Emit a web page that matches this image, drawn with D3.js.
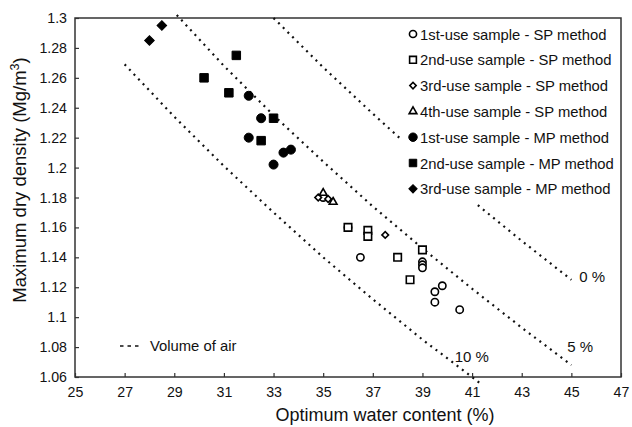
<!DOCTYPE html>
<html><head><meta charset="utf-8">
<script src="https://cdn.jsdelivr.net/npm/d3@7"></script>
<style>
body{margin:0;background:#fff;}
text{font-family:Arial,"Liberation Sans",sans-serif;fill:#111;}
</style></head>
<body><svg id="c" width="632" height="427"></svg>
<script>
// ---- data ----
const xTicks = [25,27,29,31,33,35,37,39,41,43,45,47];
const yTicks = [1.06,1.08,1.1,1.12,1.14,1.16,1.18,1.2,1.22,1.24,1.26,1.28,1.3];
const seriesNames = ["1st-use sample - SP method","2nd-use sample - SP method","3rd-use sample - SP method","4th-use sample - SP method","1st-use sample - MP method","2nd-use sample - MP method","3rd-use sample - MP method"];
const sp1 = [[36.0,1.160],[35.0,1.180],[36.5,1.140],[39.0,1.137],[39.0,1.135],[39.0,1.133],[39.8,1.121],[39.5,1.117],[39.5,1.110],[40.5,1.105]];
const sp2 = [[36.0,1.160],[36.8,1.158],[36.8,1.154],[38.0,1.140],[39.0,1.145],[38.5,1.125]];
const sp3 = [[34.8,1.180],[35.2,1.179],[37.5,1.155]];
const sp4 = [[35.0,1.183],[35.4,1.177]];
const mp1 = [[32.0,1.248],[32.5,1.233],[32.0,1.220],[33.4,1.210],[33.7,1.212],[33.0,1.202]];
const mp2 = [[30.2,1.260],[31.5,1.275],[31.2,1.250],[33.0,1.233],[32.5,1.218]];
const mp3 = [[28.0,1.285],[28.5,1.295]];
const air0  = [[33.0,1.300],[35,1.267],[37,1.236],[39,1.206],[41,1.178],[43,1.151],[45,1.125]];
const air5  = [[29.1,1.302],[31,1.268],[33,1.235],[35,1.204],[37,1.174],[39,1.146],[41,1.119],[43,1.093],[45,1.068]];
const air10 = [[27.0,1.269],[29,1.234],[31,1.201],[33,1.170],[35,1.140],[37,1.112],[39,1.085],[41,1.060],[41.3,1.056]];
const airLabels = ["0 %","5 %","10 %"];

// ---- layout ----
const svg = d3.select("#c");
const x = d3.scaleLinear().domain([25,47]).range([75,621]);
const y = d3.scaleLinear().domain([1.06,1.3]).range([377,18]);
const FONT = "Arial,'Liberation Sans',sans-serif";

// frame
svg.append("rect").attr("x",75).attr("y",18).attr("width",546).attr("height",359)
  .attr("fill","none").attr("stroke","#333").attr("stroke-width",1.5);

// axes (inward ticks)
const gx = svg.append("g").attr("transform","translate(0,377)")
  .call(d3.axisBottom(x).tickValues(xTicks).tickSizeInner(-4).tickSizeOuter(0).tickPadding(10).tickFormat(d3.format("d")));
const gy = svg.append("g").attr("transform","translate(75,0)")
  .call(d3.axisLeft(y).tickValues(yTicks).tickSizeInner(-4).tickSizeOuter(0).tickPadding(8).tickFormat(d=>String(+d.toFixed(2))));
[gx,gy].forEach(g=>{
  g.select(".domain").remove();
  g.selectAll("line").attr("stroke","#333").attr("stroke-width",1.2);
  g.selectAll("text").attr("font-size",14.2).attr("fill","#111").style("font-family",FONT);
});

// axis titles
svg.append("text").attr("x",385).attr("y",421).attr("text-anchor","middle").attr("font-size",18).text("Optimum water content  (%)");
const yt = svg.append("text").attr("transform","translate(26,180) rotate(-90)").attr("text-anchor","middle").attr("font-size",18.5);
yt.append("tspan").text("Maximum dry density  (Mg/m");
yt.append("tspan").attr("dy",-7).attr("font-size",12.5).text("3");
yt.append("tspan").attr("dy",7).text(")");

// air void lines
const line = d3.line().x(d=>x(d[0])).y(d=>y(d[1]));
[air0,air5,air10].forEach(a=>{
  svg.append("path").attr("d",line(a)).attr("fill","none").attr("stroke","#111")
    .attr("stroke-width",2.2).attr("stroke-dasharray","2,4.6");
});
// line labels
svg.append("text").attr("x",x(45)+8).attr("y",282).attr("font-size",15).text(airLabels[0]);
svg.append("text").attr("x",x(45)-4).attr("y",352).attr("font-size",15).text(airLabels[1]);
svg.append("text").attr("x",x(40.3)).attr("y",362).attr("font-size",15).text(airLabels[2]);

// markers
const sym = {
  circle:(s)=>d3.symbol(d3.symbolCircle, s)(),
  square:(s)=>d3.symbol(d3.symbolSquare, s)(),
  triangle:(s)=>d3.symbol(d3.symbolTriangle, s)()
};
const specs = [
  {data:sp1, type:"circle", size:42, fill:"#fff", rot:0, leg:40},
  {data:sp2, type:"square", size:56, fill:"#fff", rot:0, leg:46},
  {data:sp3, type:"square", size:22, fill:"#fff", rot:45, leg:20},
  {data:sp4, type:"triangle", size:26, fill:"#fff", rot:0, leg:26},
  {data:mp1, type:"circle", size:64, fill:"#000", rot:0, leg:56},
  {data:mp2, type:"square", size:72, fill:"#000", rot:0, leg:56},
  {data:mp3, type:"square", size:46, fill:"#000", rot:45, leg:34}
];

// legend (white box hides the air lines behind it)
const leg = svg.append("g");
leg.append("rect").attr("x",401).attr("y",22).attr("width",216).attr("height",181).attr("fill","#fff");
specs.forEach((s,i)=>{
  const ly = 34 + i*25.8;
  leg.append("path").attr("d",sym[s.type](s.leg))
    .attr("transform",`translate(413,${ly}) rotate(${s.rot})`)
    .attr("fill",s.fill).attr("stroke","#000").attr("stroke-width",s.fill==="#fff"?1.6:1);
  leg.append("text").attr("x",420).attr("y",ly+5.5).attr("font-size",14.8).text(seriesNames[i]);
});

specs.forEach(s=>{
  svg.append("g").selectAll("path").data(s.data).join("path")
    .attr("d",sym[s.type](s.size))
    .attr("transform",d=>`translate(${x(d[0])},${y(d[1])}) rotate(${s.rot})`)
    .attr("fill",s.fill).attr("stroke","#000").attr("stroke-width",s.fill==="#fff"?1.6:1);
});

// volume of air legend
svg.append("line").attr("x1",120).attr("x2",142).attr("y1",346).attr("y2",346)
  .attr("stroke","#111").attr("stroke-width",1.6).attr("stroke-dasharray","3.5,4");
svg.append("text").attr("x",150).attr("y",351).attr("font-size",14.8).text("Volume of air");
</script></body></html>
